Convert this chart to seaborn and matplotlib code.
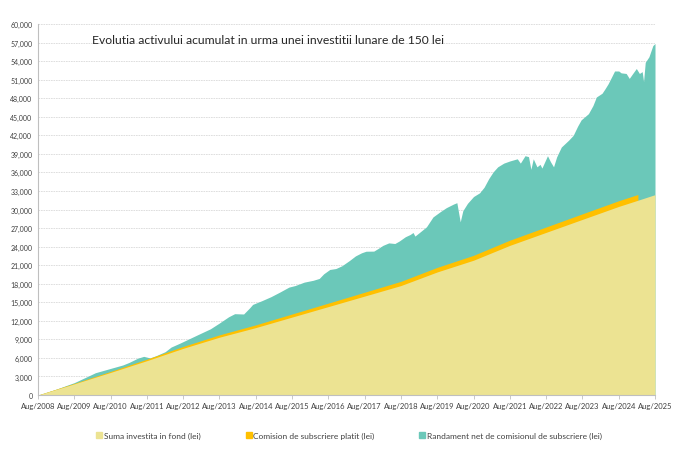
import pandas as pd
import numpy as np
from matplotlib import pyplot as plt
from matplotlib.ticker import FuncFormatter, MultipleLocator
from matplotlib.lines import Line2D
import seaborn as sns

# Values (lei)

# Suma investita in fond + comision de subscriere
inv_dates = ["2008-08-01", "2009-08-01", "2010-08-01", "2011-08-01", "2012-08-01",
             "2013-08-01", "2014-08-01", "2015-08-01", "2016-08-01", "2017-08-01",
             "2018-08-01", "2019-08-01", "2020-08-01", "2021-08-01", "2022-08-01",
             "2023-08-01", "2024-08-01", "2025-02-10", "2025-08-01"]
invested = [0, 1800, 3650, 5550, 7550, 9350, 10900, 12600, 14300, 16000,
            17700, 19900, 21800, 24200, 26300, 28400, 30500, 31500, 32400]
commission = [0, 80, 160, 240, 300, 380, 440, 500, 560, 620,
              680, 740, 790, 840, 870, 900, 920, 930, 0]

# Valoarea totala (investitie + randament)
total_dates = ["2008-08-01", "2009-02-01", "2009-08-01", "2010-01-01", "2010-03-01",
               "2010-08-01", "2010-12-01", "2011-02-01", "2011-05-01", "2011-07-01",
               "2011-09-01", "2011-11-01", "2012-02-01", "2012-04-01", "2012-07-01",
               "2012-10-01", "2013-01-01", "2013-05-01", "2013-08-01", "2013-11-01",
               "2014-01-01", "2014-04-01", "2014-06-01", "2014-07-01", "2014-10-01",
               "2015-01-01", "2015-04-01", "2015-07-01", "2015-09-01", "2015-12-01",
               "2016-03-01", "2016-05-01", "2016-06-15", "2016-08-15", "2016-10-15",
               "2016-12-15", "2017-03-01", "2017-05-01", "2017-07-01", "2017-08-15",
               "2017-11-01", "2017-12-15", "2018-02-01", "2018-04-01", "2018-06-01",
               "2018-07-15", "2018-09-15", "2018-11-01", "2018-12-01", "2018-12-20",
               "2019-02-01", "2019-04-15", "2019-06-20", "2019-09-01", "2019-11-01",
               "2020-01-15", "2020-02-15", "2020-03-20", "2020-04-15", "2020-06-01",
               "2020-08-01", "2020-10-01", "2020-11-15", "2021-01-01", "2021-02-15",
               "2021-04-01", "2021-06-01", "2021-08-01", "2021-10-15", "2021-11-15",
               "2022-01-01", "2022-02-05", "2022-03-01", "2022-03-25", "2022-05-01",
               "2022-06-01", "2022-06-20", "2022-08-15", "2022-09-15", "2022-10-15",
               "2022-11-15", "2023-01-01", "2023-03-15", "2023-05-01", "2023-06-15",
               "2023-07-20", "2023-10-01", "2023-11-15", "2023-12-20", "2024-02-15",
               "2024-03-15", "2024-04-15", "2024-05-20", "2024-06-20", "2024-08-01",
               "2024-08-25", "2024-10-15", "2024-11-15", "2024-12-20", "2025-01-25",
               "2025-02-25", "2025-03-25", "2025-04-08", "2025-04-25", "2025-06-01",
               "2025-07-10", "2025-08-01"]
total = [0, 950, 2000, 3150, 3600,
         4300, 4850, 5250, 5950, 6250,
         6000, 6350, 7000, 7750, 8400,
         9100, 9800, 10700, 11650, 12650,
         13150, 13100, 14100, 14650, 15250,
         15900, 16650, 17450, 17700, 18250,
         18550, 18850, 19600, 20300, 20450,
         20900, 21750, 22500, 23000, 23250,
         23270, 23700, 24200, 24600, 24500,
         24900, 25600, 25950, 26280, 25700,
         26250, 27200, 28800, 29650, 30300,
         30900, 31100, 28000, 29800, 31000,
         32100, 32700, 33600, 35000, 36100,
         36900, 37500, 37850, 38200, 37500,
         38700, 38550, 36500, 38200, 36900,
         37300, 36700, 38700, 37700, 36900,
         38500, 40100, 41200, 42000, 43500,
         44500, 45500, 46800, 48200, 48800,
         49500, 50300, 51400, 52400, 52400,
         52100, 52000, 51200, 52000, 52800,
         52000, 52300, 50700, 53800, 54700,
         56500, 56850]

title = "Evolutia activului acumulat in urma unei investitii lunare de 150 lei"
labels = ["Suma investita in fond (lei)",
          "Comision de subscriere platit (lei)",
          "Randament net de comisionul de subscriere (lei)"]
colors = ["#ece392", "#ffc000", "#6bc8b9"]

inv_df = pd.DataFrame({"date": pd.to_datetime(inv_dates),
                       "invested": invested, "commission": commission})
tot_df = pd.DataFrame({"date": pd.to_datetime(total_dates), "total": total})

sns.set_theme(style="white")
plt.rcParams['font.family'] = ['Lato', 'DejaVu Sans']

fig = plt.figure(figsize=(6.84, 4.56), dpi=100)
ax = fig.add_axes([38 / 684, 1 - 396 / 456, 617 / 684, 371 / 456])

# total value underneath, then invested + commission, then invested on top
ax.fill_between(tot_df["date"], 0, tot_df["total"], color=colors[2], lw=0, zorder=1)
paid = inv_df.iloc[:-1]
ax.fill_between(paid["date"], 0, paid["invested"] + paid["commission"],
                color=colors[1], lw=0, zorder=2)
ax.fill_between(inv_df["date"], 0, inv_df["invested"], color=colors[0], lw=0, zorder=3)

# axes
ticks = pd.date_range("2008-08-01", "2025-08-01", freq="12MS")
ax.set_xlim(ticks[0], ticks[-1])
ax.set_xticks(ticks)
ax.set_xticklabels([t.strftime("Aug/%Y") for t in ticks], fontsize=5.5, color="#404040")
ax.set_ylim(0, 60000)
ax.yaxis.set_major_locator(MultipleLocator(3000))
ax.yaxis.set_major_formatter(FuncFormatter(lambda v, p: f"{v:,.0f}"))
ax.tick_params(axis="y", labelsize=5, colors="#404040", length=0, pad=4)
ax.tick_params(axis="x", length=3, width=0.6, color="#bfbfbf", pad=2, bottom=True)
ax.grid(axis="y", color="#d9d9d9", lw=0.6, ls=(0, (2, 1)), zorder=0)
ax.set_axisbelow(True)
sns.despine(ax=ax, top=True, right=True)
for side in ["left", "bottom"]:
    ax.spines[side].set_color("#bfbfbf")
    ax.spines[side].set_linewidth(0.8)
    ax.spines[side].set_zorder(5)

fig.text(92 / 684, 1 - 40 / 456, title, fontsize=8.7, ha="left", va="center", color="#262626")

handles = [Line2D([], [], marker="s", ls="", color=c, markersize=4) for c in colors]
fig.legend(handles, labels, loc="center", bbox_to_anchor=(0.51, 1 - 436 / 456), ncol=3,
           frameon=False, fontsize=6, handletextpad=0.1, handlelength=0.8,
           columnspacing=5.4, labelcolor="#404040")

fig.savefig("out.png", dpi=100)
